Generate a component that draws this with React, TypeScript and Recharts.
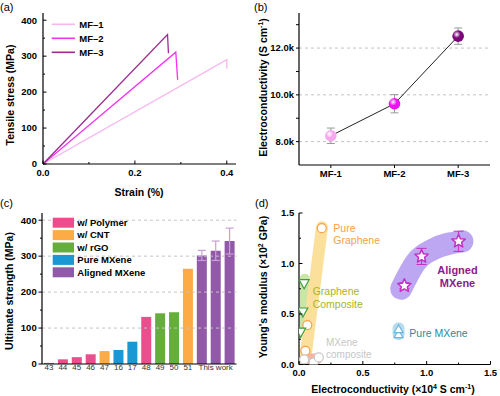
import React from 'react';
import {
  LineChart,
  Line,
  XAxis,
  YAxis,
  ReferenceLine,
  BarChart,
  Bar,
  Cell,
  ErrorBar,
  ComposedChart,
  Scatter,
} from 'recharts';

const FONT = "'Liberation Sans', Arial, Helvetica, sans-serif";

// ---- (a) tensile stress-strain curves
const mf1Strain = [0, 0.4, 0.4];
const mf1Stress = [0, 290, 265];
const mf2Strain = [0, 0.289, 0.293];
const mf2Stress = [0, 311, 234];
const mf3Strain = [0, 0.271, 0.273];
const mf3Stress = [0, 360, 308];
const aNames = ['MF–1', 'MF–2', 'MF–3'];
const aColors = ['#f8b6ef', '#f332f0', '#9c2c93'];
const aXDomain = [0, 0.42];
const aYDomain = [0, 420];
const aXTicks = [0, 0.1, 0.2, 0.3, 0.4];
const aYTicks = [0, 50, 100, 150, 200, 250, 300, 350, 400];

// ---- (b) electroconductivity
const bCategories = ['MF-1', 'MF-2', 'MF-3'];
const bConductivity = [8250, 9620, 12510];
const bError = [330, 390, 350];
const bColors = ['#f7a6ef', '#f012f0', '#7a0878'];
const bYTicks = [8000, 9000, 10000, 11000, 12000, 13000];
const bGrid = [8000, 10000, 12000];

// ---- (c) ultimate strength comparison
const cRefs = ['43', '44', '45', '46', '47', '16', '17', '48', '49', '50', '51', '', 'This work', ''];
const cStrength = [3, 13, 19, 27, 36, 39, 62, 131, 141, 144, 265, 302, 315, 342];
const cGroup = ['Polymer', 'Polymer', 'Polymer', 'Polymer', 'CNT', 'Pure', 'Pure', 'Polymer', 'rGO', 'rGO', 'CNT', 'Aligned', 'Aligned', 'Aligned'];
const cError = [null, null, null, null, null, null, null, null, null, null, null, 14, 27, 36];
const cGroupKeys = ['Polymer', 'CNT', 'rGO', 'Pure', 'Aligned'];
const cGroupNames = ['w/ Polymer', 'w/ CNT', 'w/ rGO', 'Pure MXene', 'Aligned MXene'];
const cGroupColors = ['#ec4d8c', '#fdab45', '#67ad3b', '#1998d3', '#9259a9'];
const cYDomain = [0, 420];
const cYTicks = [0, 50, 100, 150, 200, 250, 300, 350, 400];
const cGrid = [100, 200, 300, 400];

// ---- (d) modulus vs conductivity
const grapheneX = [0.05, 0.065, 0.178];
const grapheneY = [0.135, 0.39, 1.35];
const grapheneCompX = [0.013, 0.03, 0.04];
const grapheneCompY = [0.32, 0.52, 0.8];
const mxeneCompX = [0.04, 0.115, 0.155];
const mxeneCompY = [0.05, 0.02, 0.07];
const pureMxeneX = [0.78, 0.78];
const pureMxeneY = [0.3, 0.35];
const alignedX = [0.825, 0.96, 1.25];
const alignedY = [0.78, 1.07, 1.22];
const alignedErr = [0.03, 0.08, 0.1];
// shaded guide bands (x, y pairs)
const grapheneBandX = [0.045, 0.18];
const grapheneBandY = [0.02, 1.36];
const grapheneCompBandX = [0.045, 0.045];
const grapheneCompBandY = [0.3, 0.85];
const mxeneCompBandX = [0.065, 0.14];
const mxeneCompBandY = [0.055, 0.055];
const pureMxeneBandX = [0.78, 0.78];
const pureMxeneBandY = [0.3, 0.36];
const alignedBandX = [0.8, 0.92, 1.05, 1.28];
const alignedBandY = [0.75, 1.02, 1.14, 1.22];
const dDomain = [0, 1.5];
const dTicks = [0, 0.25, 0.5, 0.75, 1, 1.25, 1.5];

// panel frames: where each chart sits and how much room its axes take
const frameA = { left: 0, top: 0, w: 250, h: 200, mt: 13, mr: 14, yw: 43, xh: 36 };
const frameC = { left: 0, top: 190, w: 250, h: 206, mt: 23, mr: 13.5, yw: 42, xh: 32 };
const frameD = { left: 250, top: 190, w: 250, h: 206, mt: 23, mr: 9.5, yw: 49, xh: 31.5 };

const zip = (xs: number[], ys: number[], extra?: (number | null)[]) =>
  xs.map((x, i) => ({ x, y: ys[i], err: extra ? extra[i] : undefined }));

const tickText = { fill: '#000', fontSize: 9.5, fontWeight: 700, fontFamily: FONT };
const axisLine = { stroke: '#000', strokeWidth: 1.2 };
const tickLine = { stroke: '#000', strokeWidth: 1 };

const isMajor = (v: number, step: number) => Math.round(v / step) % 2 === 0;

const bottomTick = (fmt: (v: any) => string, style: any = tickText, shift = 0) => (p: any) => (
  <text x={p.x} y={p.y + shift} dy="0.71em" textAnchor="middle" style={style}>{fmt(p.payload.value)}</text>
);

// empty axes to close the frame on top/right
const frameAxes = () => [
  <XAxis key="ft" xAxisId="top" orientation="top" type="number" domain={[0, 1]} height={0} tick={false} tickLine={false} axisLine={axisLine} />,
  <YAxis key="fr" yAxisId="right" orientation="right" type="number" domain={[0, 1]} width={0} tick={false} tickLine={false} axisLine={axisLine} />,
];

const PanelA = () => (
  <LineChart width={frameA.w} height={frameA.h} margin={{ top: frameA.mt, right: frameA.mr, left: 0, bottom: 0 }}>
    <XAxis type="number" dataKey="x" domain={aXDomain} height={frameA.xh} tick={false} tickLine={false} axisLine={axisLine} allowDataOverflow />
    <YAxis type="number" dataKey="y" domain={aYDomain} width={frameA.yw} tick={false} tickLine={false} axisLine={axisLine} />
    {frameAxes()}
    <Line data={zip(mf1Strain, mf1Stress)} dataKey="y" type="linear" stroke={aColors[0]} strokeWidth={1.3} dot={false} isAnimationActive={false} />
    <Line data={zip(mf2Strain, mf2Stress)} dataKey="y" type="linear" stroke={aColors[1]} strokeWidth={1.3} dot={false} isAnimationActive={false} />
    <Line data={zip(mf3Strain, mf3Stress)} dataKey="y" type="linear" stroke={aColors[2]} strokeWidth={1.3} dot={false} isAnimationActive={false} />
  </LineChart>
);

const renderSphere = (props: any) => {
  const { cx, cy, index } = props;
  const id = `sphere-${index}`;
  return (
    <g key={id}>
      <defs>
        <radialGradient id={id} cx="38%" cy="35%" r="70%">
          <stop offset="0%" stopColor="#ffffff" />
          <stop offset="45%" stopColor={bColors[index]} />
          <stop offset="100%" stopColor={bColors[index]} />
        </radialGradient>
      </defs>
      <circle cx={cx} cy={cy} r={5.8} fill={`url(#${id})`} />
    </g>
  );
};

const bData = bCategories.map((name, i) => ({ x: i + 1, name, y: bConductivity[i], err: bError[i] }));

const PanelB = () => (
  <LineChart width={250} height={200} margin={{ top: 13, right: 10, left: 0, bottom: 0 }} data={bData}>
    <XAxis type="number" dataKey="x" domain={[0.5, 3.5]} ticks={[1, 2, 3]} interval={0}
      tickFormatter={(v: number) => bCategories[v - 1]}
      height={35} tickSize={3} tickMargin={2} axisLine={axisLine} tickLine={tickLine} tick={tickText} />
    <YAxis type="number" domain={[7000, 13500]} ticks={bYTicks} interval={0}
      tickFormatter={(v: number) => (v % 2000 === 0 ? (v / 1000).toFixed(1) + 'k' : '')}
      width={49} tickSize={3} tickMargin={2} axisLine={axisLine} tickLine={tickLine} tick={tickText} />
    {frameAxes()}
    {bGrid.map((g) => (
      <ReferenceLine key={g} y={g} stroke="#c4c4c4" strokeDasharray="3 3" />
    ))}
    <Line dataKey="y" type="linear" stroke="#222" strokeWidth={1} dot={renderSphere} activeDot={false} isAnimationActive={false}>
      <ErrorBar dataKey="err" width={4} stroke="#9a9a9a" strokeWidth={1} />
    </Line>
  </LineChart>
);

const cData = cRefs.map((ref, i) => ({ id: `c${i}`, label: ref, v: cStrength[i], err: cError[i], group: cGroup[i] }));

const PanelC = () => (
  <BarChart width={frameC.w} height={frameC.h} margin={{ top: frameC.mt, right: frameC.mr, left: 0, bottom: 0 }} data={cData}>
    <XAxis dataKey="id" interval={0}
      tick={bottomTick((id: string) => cRefs[Number(String(id).slice(1))], { fill: '#333', fontSize: 8, fontFamily: FONT }, -5)}
      height={frameC.xh} tickLine={false} tickSize={0} tickMargin={5} axisLine={axisLine} />
    <YAxis type="number" domain={cYDomain} width={frameC.yw} tick={false} tickLine={false} axisLine={axisLine} />
    {frameAxes()}
    {cGrid.map((g) => (
      <ReferenceLine key={g} y={g} stroke="#c4c4c4" strokeDasharray="3 3" />
    ))}
    <Bar dataKey="v" barSize={10} isAnimationActive={false}>
      {cData.map((d, i) => (
        <Cell key={i} fill={cGroupColors[cGroupKeys.indexOf(d.group)]} />
      ))}
      <ErrorBar dataKey="err" width={4} stroke="#c9a0d6" strokeWidth={1.2} />
    </Bar>
  </BarChart>
);

const ring = (color: string) => (props: any) => (
  <circle cx={props.cx} cy={props.cy} r={4.5} fill="#fff" stroke={color} strokeWidth={1.2} />
);
const triDown = (color: string) => (props: any) => {
  const { cx, cy } = props;
  return <path d={`M${cx - 5},${cy - 4}L${cx + 5},${cy - 4}L${cx},${cy + 5}Z`} fill="#fff" stroke={color} strokeWidth={1.2} />;
};
const triUp = (color: string) => (props: any) => {
  const { cx, cy } = props;
  return <path d={`M${cx - 4.5},${cy + 3.5}L${cx + 4.5},${cy + 3.5}L${cx},${cy - 4.5}Z`} fill="#fff" stroke={color} strokeWidth={1.2} />;
};
const star = (props: any) => {
  const { cx, cy } = props;
  const pts: string[] = [];
  for (let k = 0; k < 10; k++) {
    const r = k % 2 === 0 ? 7 : 3.2;
    const a = -Math.PI / 2 + (k * Math.PI) / 5;
    pts.push(`${cx + r * Math.cos(a)},${cy + r * Math.sin(a)}`);
  }
  return <polygon points={pts.join(' ')} fill="#fff" stroke="#c42fc4" strokeWidth={1.5} strokeLinejoin="round" />;
};

const band = (key: string, xs: number[], ys: number[], color: string, w: number, curve: 'linear' | 'monotone' = 'linear') => (
  <Line key={key} data={zip(xs, ys)} dataKey="y" type={curve} stroke={color} strokeWidth={w} strokeLinecap="round" strokeLinejoin="round"
    dot={false} activeDot={false} isAnimationActive={false} />
);

const PanelD = () => (
  <ComposedChart width={frameD.w} height={frameD.h} margin={{ top: frameD.mt, right: frameD.mr, left: 0, bottom: 0 }}>
    <XAxis type="number" dataKey="x" domain={dDomain} height={frameD.xh} tick={false} tickLine={false} axisLine={axisLine} allowDataOverflow />
    <YAxis type="number" dataKey="y" domain={dDomain} width={frameD.yw} tick={false} tickLine={false} axisLine={axisLine} allowDataOverflow />
    {frameAxes()}
    {band('b1', grapheneCompBandX, grapheneCompBandY, '#c9e6a6', 10)}
    {band('b2', grapheneBandX, grapheneBandY, '#fbe09c', 12)}
    {band('b3', mxeneCompBandX, mxeneCompBandY, '#f6b3a2', 11)}
    {band('b4', pureMxeneBandX, pureMxeneBandY, '#b9dcf0', 12)}
    {band('b5', alignedBandX, alignedBandY, '#bea7f2', 22, 'monotone')}
    <Scatter data={zip(grapheneX, grapheneY)} shape={ring('#f8a046')} isAnimationActive={false} />
    <Scatter data={zip(grapheneCompX, grapheneCompY)} shape={triDown('#3c9e3c')} isAnimationActive={false} />
    <Scatter data={zip(mxeneCompX, mxeneCompY)} shape={ring('#c8c8c8')} isAnimationActive={false} />
    <Scatter data={zip(pureMxeneX, pureMxeneY)} shape={triUp('#6fb6de')} isAnimationActive={false} />
    <Scatter data={zip(alignedX, alignedY, alignedErr)} shape={star} isAnimationActive={false}>
      <ErrorBar dataKey="err" direction="y" width={5} stroke="#c42fc4" strokeWidth={1} />
    </Scatter>
  </ComposedChart>
);

// axis ticks and labels for panels a, c and d, placed on each panel's plot frame
type Frame = typeof frameA;
const plotBox = (f: Frame) => ({ x0: f.left + f.yw, x1: f.left + f.w - f.mr, y0: f.top + f.mt, y1: f.top + f.h - f.xh });

const LeftTicks = ({ f, domain, ticks, step, digits, inward, gap }: any) => {
  const b = plotBox(f);
  const py = (v: number) => b.y1 - ((v - domain[0]) / (domain[1] - domain[0])) * (b.y1 - b.y0);
  return (
    <g>
      {ticks.map((v: number) => {
        const len = isMajor(v, step) ? 3.5 : 2;
        return (
          <g key={v}>
            <line x1={b.x0} x2={inward ? b.x0 + len : b.x0 - len} y1={py(v)} y2={py(v)} stroke="#000" strokeWidth={1} />
            {isMajor(v, step) && (
              <text x={b.x0 - gap} y={py(v)} dy="0.35em" textAnchor="end" style={tickText}>{v.toFixed(digits)}</text>
            )}
          </g>
        );
      })}
    </g>
  );
};

const BottomTicks = ({ f, domain, ticks, step, digits, gap }: any) => {
  const b = plotBox(f);
  const px = (v: number) => b.x0 + ((v - domain[0]) / (domain[1] - domain[0])) * (b.x1 - b.x0);
  return (
    <g>
      {ticks.map((v: number) => {
        const len = isMajor(v, step) ? 3.5 : 2;
        return (
          <g key={v}>
            <line x1={px(v)} x2={px(v)} y1={b.y1} y2={b.y1 - len} stroke="#000" strokeWidth={1} />
            {isMajor(v, step) && (
              <text x={px(v)} y={b.y1 + gap} dy="0.71em" textAnchor="middle" style={tickText}>{v.toFixed(digits)}</text>
            )}
          </g>
        );
      })}
    </g>
  );
};

const txt = { fontFamily: FONT };

const Overlay = () => (
  <svg width={500} height={396} style={{ position: 'absolute', left: 0, top: 0, pointerEvents: 'none' }}>
    <LeftTicks f={frameA} domain={aYDomain} ticks={aYTicks} step={50} digits={0} inward gap={6} />
    <BottomTicks f={frameA} domain={aXDomain} ticks={aXTicks} step={0.1} digits={1} gap={5.5} />
    <LeftTicks f={frameC} domain={cYDomain} ticks={cYTicks} step={50} digits={0} inward={false} gap={5.3} />
    <LeftTicks f={frameD} domain={dDomain} ticks={dTicks} step={0.25} digits={1} inward gap={4.8} />
    <BottomTicks f={frameD} domain={dDomain} ticks={dTicks} step={0.25} digits={1} gap={5.2} />

    <text style={txt} x={0} y={10.5} fontSize={11}>(a)</text>
    <text style={txt} x={254} y={10.5} fontSize={11}>(b)</text>
    <text style={txt} x={0} y={207} fontSize={11}>(c)</text>
    <text style={txt} x={255} y={207} fontSize={11}>(d)</text>

    <text style={txt} transform="translate(13.5,95) rotate(-90)" textAnchor="middle" fontSize={10.5} fontWeight={700}>Tensile stress (MPa)</text>
    <text style={txt} x={139} y={195.5} textAnchor="middle" fontSize={10.5} fontWeight={700}>Strain (%)</text>
    <text style={txt} transform="translate(266.5,87.5) rotate(-90)" textAnchor="middle" fontSize={10.5} fontWeight={700}>
      Electroconductivity (S cm<tspan dy={-4} fontSize={7}>-1</tspan><tspan dy={4}>)</tspan>
    </text>
    <text style={txt} transform="translate(13,291) rotate(-90)" textAnchor="middle" fontSize={10.5} fontWeight={700}>Ultimate strength (MPa)</text>
    <text style={txt} transform="translate(266.5,287) rotate(-90)" textAnchor="middle" fontSize={10.5} fontWeight={700}>
      Young's modulus (×10<tspan dy={-4} fontSize={7}>2</tspan><tspan dy={4}> GPa)</tspan>
    </text>
    <text style={txt} x={393} y={393} textAnchor="middle" fontSize={10.5} fontWeight={700}>
      Electroconductivity (×10<tspan dy={-4} fontSize={7}>4</tspan><tspan dy={4}> S cm</tspan><tspan dy={-4} fontSize={7}>-1</tspan><tspan dy={4}>)</tspan>
    </text>

    {aNames.map((n, i) => (
      <g key={n}>
        <line x1={51.7} x2={75} y1={24.3 + i * 14} y2={24.3 + i * 14} stroke={aColors[i]} strokeWidth={1.6} />
        <text style={txt} x={79.3} y={24.3 + i * 14} dy="0.35em" fontSize={9.5} fontWeight={700}>{n}</text>
      </g>
    ))}

    {cGroupNames.map((n, i) => (
      <g key={n}>
        <rect x={52.7} y={217.7 + i * 12.4} width={21.3} height={10} fill={cGroupColors[i]} />
        <text style={txt} x={77.3} y={222.7 + i * 12.4} dy="0.35em" fontSize={9.5} fontWeight={700}>{n}</text>
      </g>
    ))}

    <text style={txt} x={333.3} y={228} dy="0.35em" fontSize={10.5} fill="#f7a04a">Pure</text>
    <text style={txt} x={333.3} y={240} dy="0.35em" fontSize={10.5} fill="#f7a04a">Graphene</text>
    <text style={txt} x={312.7} y={291} dy="0.35em" fontSize={10.5} fill="#a9b520">Graphene</text>
    <text style={txt} x={312.7} y={304} dy="0.35em" fontSize={10.5} fill="#a9b520">Composite</text>
    <text style={txt} x={326} y={342.7} dy="0.35em" fontSize={10} fill="#c6c6c6">MXene</text>
    <text style={txt} x={326} y={354.7} dy="0.35em" fontSize={10} fill="#c6c6c6">composite</text>
    <text style={txt} x={457.5} y={270} dy="0.35em" textAnchor="middle" fontSize={11} fontWeight={700} fill="#8c1a8c">Aligned</text>
    <text style={txt} x={457.5} y={282.7} dy="0.35em" textAnchor="middle" fontSize={11} fontWeight={700} fill="#8c1a8c">MXene</text>
    <text style={txt} x={409.3} y={333.3} dy="0.35em" fontSize={10.5} fill="#2a8c99">Pure MXene</text>
  </svg>
);

export default function App() {
  return (
    <div style={{ position: 'absolute', left: 0, top: 0, width: 500, height: 396, background: '#fff', overflow: 'hidden' }}>
      <div style={{ position: 'absolute', left: frameA.left, top: frameA.top }}><PanelA /></div>
      <div style={{ position: 'absolute', left: 250, top: 0 }}><PanelB /></div>
      <div style={{ position: 'absolute', left: frameC.left, top: frameC.top }}><PanelC /></div>
      <div style={{ position: 'absolute', left: frameD.left, top: frameD.top }}><PanelD /></div>
      <Overlay />
    </div>
  );
}
